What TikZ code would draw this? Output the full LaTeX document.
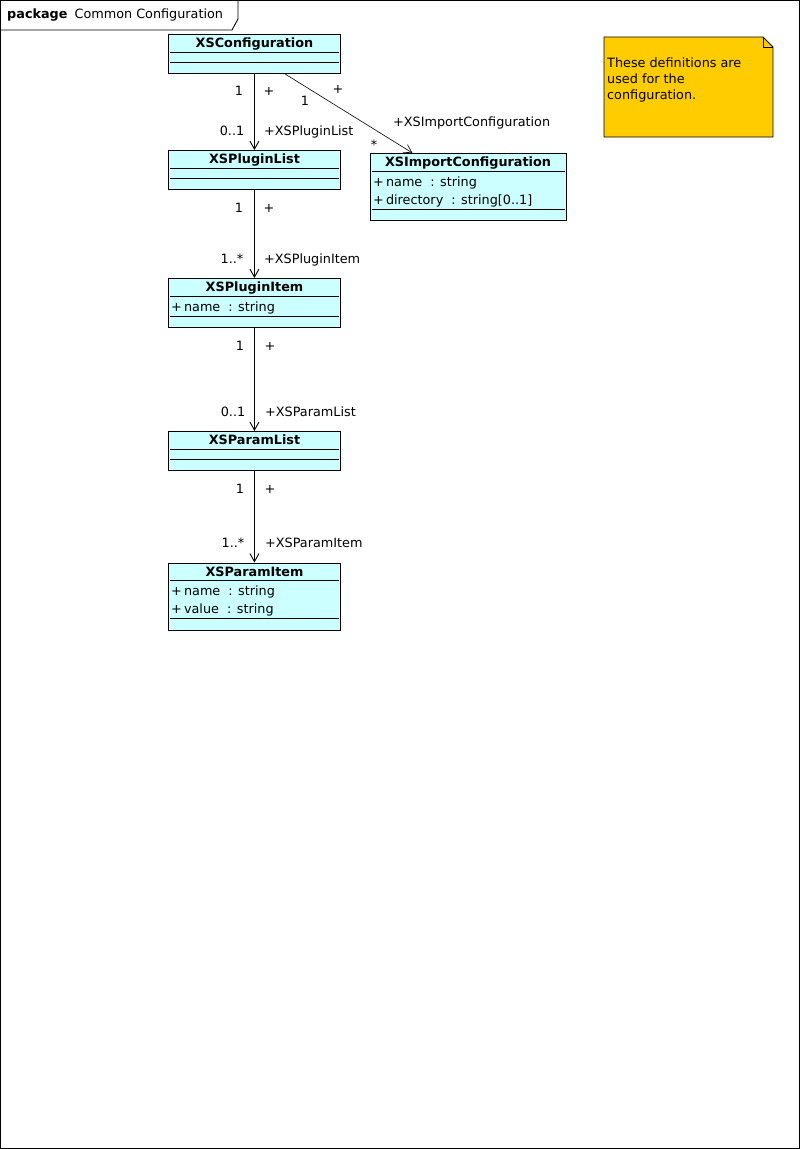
\documentclass[tikz,border=0pt]{standalone}
\usepackage{fontspec}
\setmainfont{DejaVu Sans}
\usetikzlibrary{arrows.meta}
\definecolor{clsfill}{HTML}{CCFFFF}
\definecolor{notefill}{HTML}{FFCC00}

\begin{document}
\begin{tikzpicture}[x=1pt,y=-1pt,
  every node/.style={font=\fontsize{12.8}{16}\selectfont, inner sep=0pt},
  cls/.style={draw, fill=clsfill, line width=0.9pt, minimum width=172pt, anchor=north west},
  clsname/.style={anchor=base, font=\fontsize{12.8}{16}\selectfont\bfseries},
  attr/.style={anchor=base west},
  sep/.style={line width=0.9pt},
  assoc/.style={line width=0.9pt, -{Straight Barb[length=8pt,width=9pt]}},
  mult/.style={anchor=base},
  role/.style={anchor=base west}]
\useasboundingbox (0,0) rectangle (801,1149);
%frame
\draw[line width=0.9pt] (0.5,0.5) rectangle (799.5,1148.5);
\draw[line width=0.9pt] (0.5,30) -- (232,30) -- (238,19) -- (238,0.5);
\node[anchor=base west] (pkg) at (7,18) {\textbf{package}\hspace{7pt}Common Configuration};

%XSConfiguration
\node[cls, minimum height=39pt] (conf) at (168,34) {};
\node[clsname] (confn) at (254.5,47.7) {XSConfiguration};
\draw[sep] (170,52) -- (339,52);
\draw[sep] (170,62) -- (339,62);

%XSPluginList
\node[cls, minimum height=39pt] (plist) at (168,150) {};
\node[clsname] (plistn) at (254.5,163.5) {XSPluginList};
\draw[sep] (170,168) -- (339,168);
\draw[sep] (170,178) -- (339,178);

%XSImportConfiguration
\node[cls, minimum width=196pt, minimum height=67pt] (imp) at (370,153) {};
\node[clsname] (impn) at (468,166.7) {XSImportConfiguration};
\draw[sep] (372,171) -- (565,171);
\node[attr] (impa) at (373,186) {+\,name\ \ : string};
\node[attr] (impb) at (373,204) {+\,directory\ \ : string[0..1]};
\draw[sep] (372,209) -- (565,209);

%XSPluginItem
\node[cls, minimum height=49pt] (pitem) at (168,278) {};
\node[clsname] (pitemn) at (254.5,291.7) {XSPluginItem};
\draw[sep] (170,296) -- (339,296);
\node[attr] (pitema) at (171,311) {+\,name\ \ : string};
\draw[sep] (170,316) -- (339,316);

%XSParamList
\node[cls, minimum height=39pt] (prlist) at (168,431) {};
\node[clsname] (prlistn) at (254.5,444.7) {XSParamList};
\draw[sep] (170,449) -- (339,449);
\draw[sep] (170,459) -- (339,459);

%XSParamItem
\node[cls, minimum height=67pt] (pritem) at (168,562.5) {};
\node[clsname] (pritemn) at (254.5,576.2) {XSParamItem};
\draw[sep] (170,580.5) -- (339,580.5);
\node[attr] (pritema) at (171,595) {+\,name\ \ : string};
\node[attr] (pritemb) at (171,613) {+\,value\ \ : string};
\draw[sep] (170,618.5) -- (339,618.5);

%note
\filldraw[fill=notefill, line width=0.9pt] (604,37) -- (763,37) -- (773,47) -- (773,137) -- (604,137) -- cycle;
\draw[line width=0.9pt] (763,37) -- (763,47) -- (773,47);
\node[anchor=north west, align=left] (notet) at (607,58) {These definitions are\\used for the\\configuration.};

%links
\draw[assoc] (conf.south) -- (plist.north);
\draw[assoc, line width=0.6pt] ([xshift=30.5pt]conf.south) -- ([xshift=-56pt]imp.north);
\draw[assoc] (plist.south) -- (pitem.north);
\draw[assoc] (pitem.south) -- (prlist.north);
\draw[assoc] (prlist.south) -- (pritem.north);

%Text
\node[mult] (m1) at (239,95.7) {1};
\node[mult] (r1) at (269,95.7) {+};
\node[mult] (m2) at (232,135.7) {0..1};
\node[role] (r2) at (264,135.7) {+XSPluginList};
\node[mult] (m3) at (305,105.7) {1};
\node[mult] (r3) at (338,93.7) {+};
\node[role] (r4) at (393,126.7) {+XSImportConfiguration};
\node[anchor=center] (m4) at (374,145) {*};
\node[mult] (m5) at (239,212.7) {1};
\node[mult] (r5) at (269,212.7) {+};
\node[mult] (m6) at (232,263.7) {1..*};
\node[role] (r6) at (264,263.7) {+XSPluginItem};
\node[mult] (m7) at (240,350.7) {1};
\node[mult] (r7) at (270,350.7) {+};
\node[mult] (m8) at (233,416.7) {0..1};
\node[role] (r8) at (265,416.7) {+XSParamList};
\node[mult] (m9) at (240,493.7) {1};
\node[mult] (r9) at (270,493.7) {+};
\node[mult] (m10) at (233,547.7) {1..*};
\node[role] (r10) at (265,547.7) {+XSParamItem};
\end{tikzpicture}
\end{document}
